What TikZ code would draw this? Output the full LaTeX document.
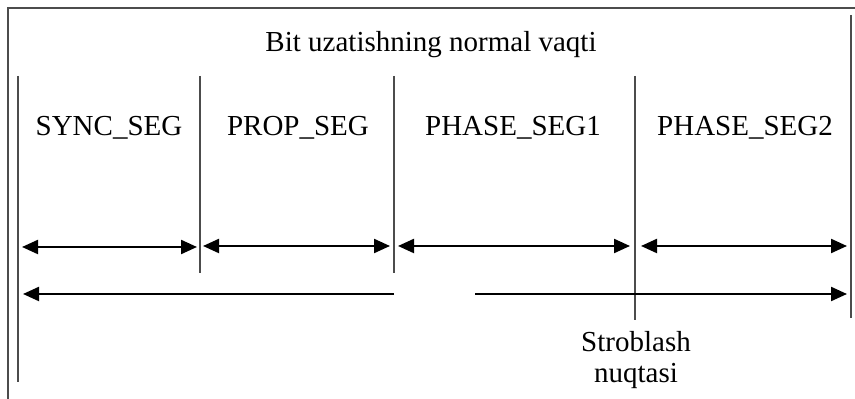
\documentclass[tikz,border=0pt]{standalone}
\usepackage{fontspec}
\setmainfont{Liberation Serif}
\usetikzlibrary{arrows.meta}
\usetikzlibrary{positioning}

\begin{document}
\begin{tikzpicture}[x=0.5pt, y=-0.5pt,
  every node/.style = {font=\fontsize{14.5}{15.5}\selectfont,
    inner sep=0pt, anchor=base},
  frame/.style = {draw=black!70, line width=0.7pt},
  divider/.style = {draw=black!70, line width=0.7pt},
  span/.style = {draw, line width=1.1pt,
    {Triangle[length=8pt,width=7pt]}-{Triangle[length=8pt,width=7pt]}},
  ray/.style = {draw, line width=1.1pt, -{Triangle[length=8pt,width=7pt]}}
  ]
  \useasboundingbox (0,0) rectangle (855,399);

  % frame
  \draw[frame] (8,399) -- (8,8) -- (855,8);
  \draw[frame] (851,15) -- (851,318);

  % segment borders
  \foreach \name/\x/\y in {b0/18/382, b1/200/273, b2/394/273, b3/635/320}{
    \coordinate (\name top) at (\x,76);
    \coordinate (\name bot) at (\x,\y);
    \draw[divider] (\name top) -- (\name bot);
  }

  % texts
  \node (title) at (431,52) {Bit uzatishning normal vaqti};
  \node (sync)   at (109,136) {SYNC\_SEG};
  \node (prop)   at (298,136) {PROP\_SEG};
  \node (phase1) at (513,136) {PHASE\_SEG1};
  \node (phase2) at (745,136) {PHASE\_SEG2};
  \node (strobe) at (636,383) [align=center] {Stroblash\\nuqtasi};

  % segment spans
  \foreach \name/\l/\r/\y in {sync/22/197/247, prop/203/390/246,
    phaseA/398/630/246, phaseB/641/847/246}{
    \coordinate (\name l) at (\l,\y);
    \coordinate (\name r) at (\r,\y);
    \draw[span] (\name l) -- (\name r);
  }

  % before and after the sample point
  \coordinate (before s) at (394,294);
  \coordinate (before e) at (23,294);
  \coordinate (after s) at (475,294);
  \coordinate (after e) at (847,294);
  \draw[ray] (before s) -- (before e);
  \draw[ray] (after s) -- (after e);
\end{tikzpicture}
\end{document}
